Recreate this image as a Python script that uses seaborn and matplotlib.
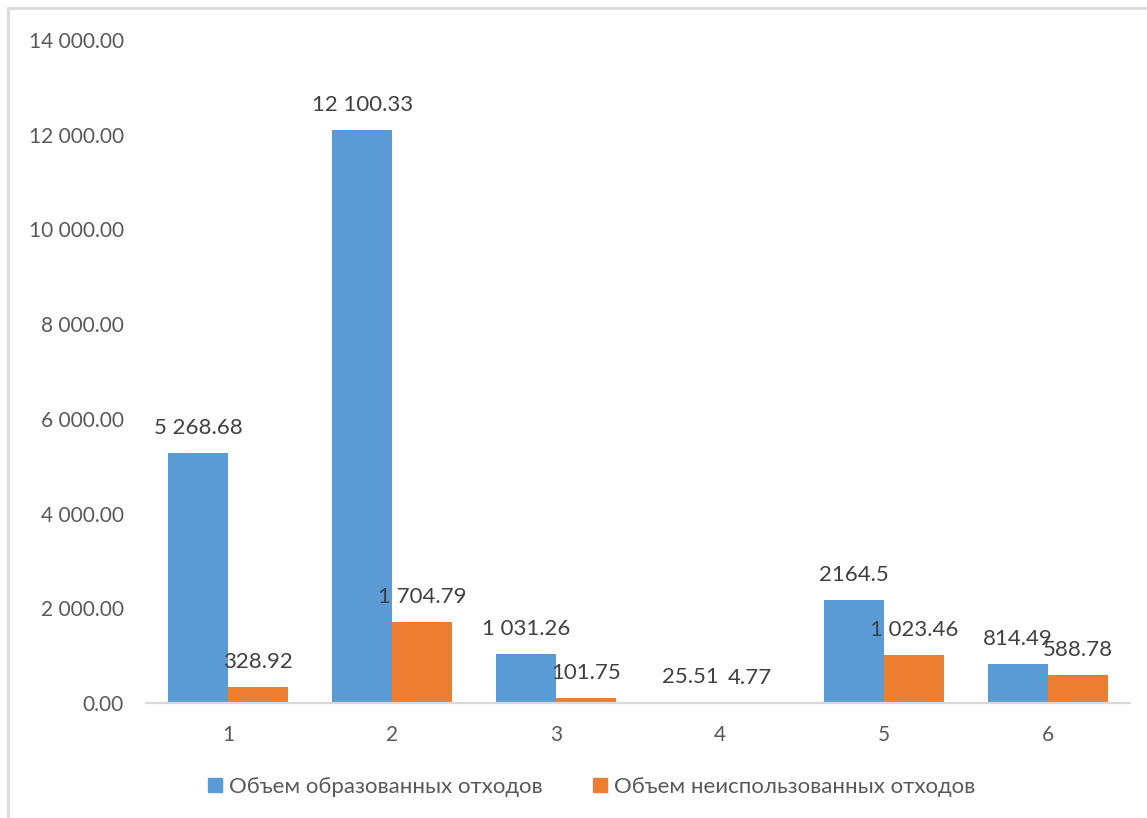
import matplotlib
matplotlib.use("Agg")
import matplotlib.pyplot as plt
from matplotlib.lines import Line2D
from matplotlib.patches import Rectangle
import seaborn as sns
import pandas as pd

# --- data ---
categories = ["1", "2", "3", "4", "5", "6"]
series_names = ["Объем образованных отходов", "Объем неиспользованных отходов"]
generated = [5268.68, 12100.33, 1031.26, 25.51, 2164.5, 814.49]
unused = [328.92, 1704.79, 101.75, 4.77, 1023.46, 588.78]
generated_labels = ["5 268.68", "12 100.33", "1 031.26", "25.51", "2164.5", "814.49"]
unused_labels = ["328.92", "1 704.79", "101.75", "4.77", "1 023.46", "588.78"]
y_ticks = [0, 2000, 4000, 6000, 8000, 10000, 12000, 14000]

colors = ["#5B9BD5", "#ED7D31"]

df = pd.DataFrame({
    "cat": categories * 2,
    "value": generated + unused,
    "series": [series_names[0]] * len(categories) + [series_names[1]] * len(categories),
})

sns.set_theme(style="white")
plt.rcParams["font.family"] = ["Lato", "DejaVu Sans"]

fig = plt.figure(figsize=(11.47, 8.18), dpi=100)
ax = fig.add_axes([0.1273, 0.1406, 0.8579, 0.8105])

sns.barplot(data=df, x="cat", y="value", hue="series", order=categories,
            hue_order=series_names, palette=colors, width=0.73, gap=0,
            linewidth=0, saturation=1, errorbar=None, legend=False, ax=ax)

ax.set_ylim(0, 14000)
ax.set_xlim(-0.5, len(categories) - 0.5)
ax.set_yticks(y_ticks)
ax.set_yticklabels([f"{t:,.2f}".replace(",", " ") for t in y_ticks])
ax.set_xlabel("")
ax.set_ylabel("")
for s in ["top", "right", "left"]:
    ax.spines[s].set_visible(False)
ax.spines["bottom"].set_color("#D9D9D9")
ax.spines["bottom"].set_linewidth(1.6)
ax.tick_params(axis="y", length=0, pad=16, labelsize=15, labelcolor="#595959")
ax.tick_params(axis="x", length=0, pad=16, labelsize=15, labelcolor="#595959")
ax.grid(False)

# value labels just above each bar
for container, labels in zip(ax.containers, [generated_labels, unused_labels]):
    for bar, lab in zip(container, labels):
        x = bar.get_x() + bar.get_width() / 2
        ax.annotate(lab, (x, bar.get_height()), xytext=(0, 18), textcoords="offset points",
                    ha="center", va="center", fontsize=16, color="#404040",
                    annotation_clip=False)

# legend under the plot
handles = [Line2D([], [], marker="s", linestyle="none", markersize=10,
                  markerfacecolor=c, markeredgecolor=c) for c in colors]
fig.legend(handles, series_names, loc="center", bbox_to_anchor=(0.514, 0.038), ncol=2,
           frameon=False, fontsize=16, labelcolor="#595959", handletextpad=0.1,
           columnspacing=2.1, handlelength=1.0)

# chart area frame
fig.patches.append(Rectangle((8 / 1147, -0.1), 1.2, 1 - 8 / 818 + 0.1,
                             transform=fig.transFigure, fill=False,
                             edgecolor="#D9D9D9", linewidth=2))

fig.savefig("out.png", dpi=100)
